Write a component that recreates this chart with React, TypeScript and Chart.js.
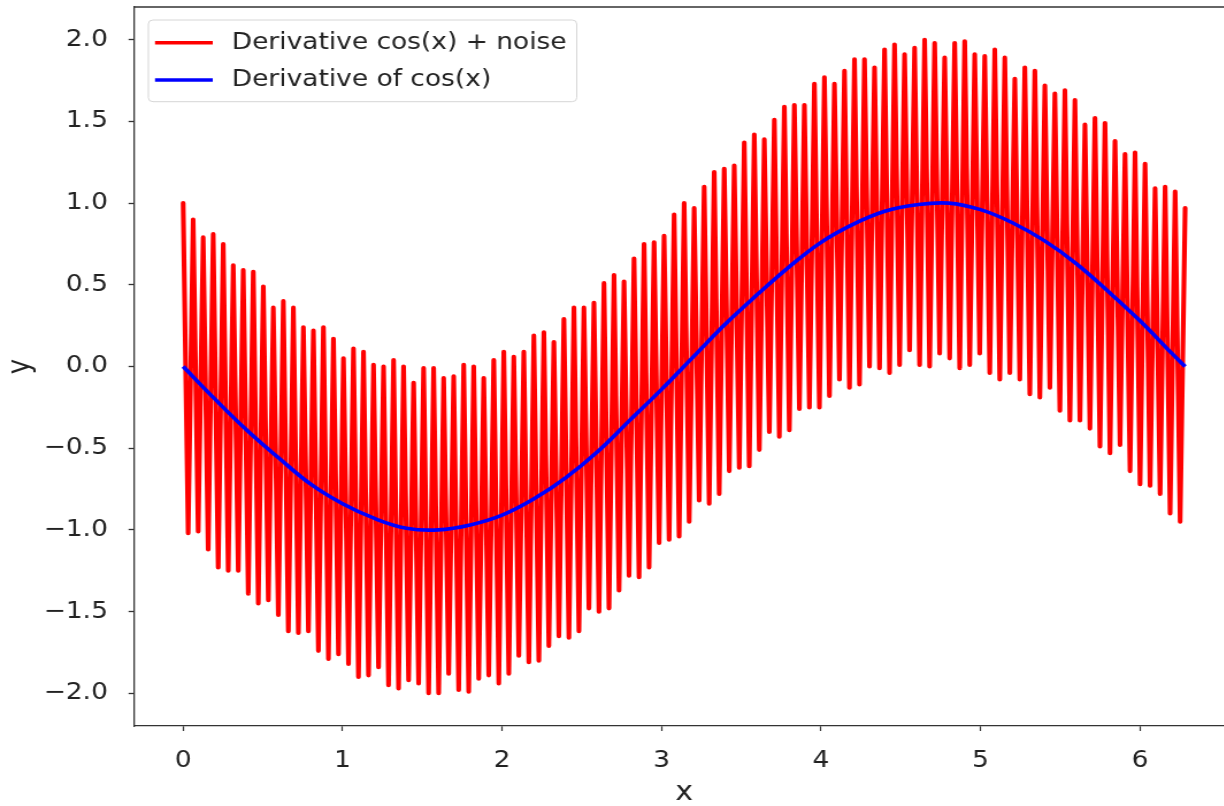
import React, { useEffect, useRef } from 'react';
import { Chart, registerables } from 'chart.js';

Chart.register(...registerables);

// ---------- data ----------
const X_END = 6.2832; // last sample (2π)

// local maxima of the noisy derivative (every other sample, starting at x = 0)
const NOISY_PEAKS = [
  1.0, 0.9, 0.79, 0.81, 0.75, 0.62, 0.59, 0.58, 0.49, 0.36,
  0.4, 0.36, 0.24, 0.22, 0.24, 0.17, 0.05, 0.11, 0.09, 0.01,
  0.0, 0.04, 0.0, -0.1, -0.01, -0.01, -0.07, -0.06, 0.01, 0.0,
  -0.07, 0.04, 0.09, 0.06, 0.09, 0.19, 0.21, 0.15, 0.29, 0.36,
  0.36, 0.39, 0.51, 0.56, 0.52, 0.66, 0.75, 0.76, 0.8, 0.93,
  1.0, 0.97, 1.1, 1.19, 1.21, 1.23, 1.37, 1.42, 1.39, 1.51,
  1.59, 1.6, 1.6, 1.73, 1.77, 1.73, 1.81, 1.88, 1.88, 1.83,
  1.94, 1.97, 1.91, 1.95, 2.0, 1.98, 1.89, 1.98, 1.99, 1.91,
  1.9, 1.94, 1.89, 1.76, 1.83, 1.81, 1.72, 1.67, 1.69, 1.63,
  1.48, 1.52, 1.49, 1.38, 1.3, 1.31, 1.24, 1.09, 1.1, 1.07,
  0.97,
];

// local minima of the noisy derivative (the samples in between)
const NOISY_TROUGHS = [
  -1.02, -1.01, -1.12, -1.23, -1.25, -1.25, -1.39, -1.45, -1.43, -1.52,
  -1.62, -1.63, -1.62, -1.74, -1.79, -1.76, -1.82, -1.9, -1.89, -1.84,
  -1.95, -1.97, -1.92, -1.94, -2.0, -2.0, -1.88, -1.98, -1.99, -1.91,
  -1.89, -1.94, -1.88, -1.77, -1.81, -1.8, -1.71, -1.65, -1.66, -1.62,
  -1.48, -1.5, -1.48, -1.37, -1.28, -1.29, -1.23, -1.08, -1.06, -1.04,
  -0.95, -0.82, -0.84, -0.78, -0.64, -0.62, -0.61, -0.51, -0.4, -0.43,
  -0.39, -0.26, -0.25, -0.25, -0.18, -0.08, -0.13, -0.11, 0.0, -0.01,
  -0.04, 0.01, 0.1, 0.01, 0.0, 0.08, 0.05, -0.01, 0.01, 0.08,
  -0.04, -0.08, -0.04, -0.08, -0.17, -0.19, -0.13, -0.27, -0.33, -0.33,
  -0.38, -0.49, -0.53, -0.48, -0.64, -0.72, -0.73, -0.78, -0.9, -0.95,
];

// smooth derivative of cos(x)
const CLEAN_X = [
  0, 0.2, 0.4, 0.6, 0.8, 1.0, 1.2, 1.4, 1.6, 1.8, 2.0, 2.2, 2.4, 2.6, 2.8, 3.0,
  3.2, 3.4, 3.6, 3.8, 4.0, 4.2, 4.4, 4.6, 4.8, 5.0, 5.2, 5.4, 5.6, 5.8, 6.0, 6.2, 6.2832,
];
const CLEAN_Y = [
  0, -0.2, -0.39, -0.56, -0.72, -0.84, -0.93, -0.99, -1.0, -0.97, -0.91, -0.81, -0.68, -0.52, -0.33, -0.14,
  0.06, 0.26, 0.44, 0.61, 0.76, 0.87, 0.95, 0.99, 1.0, 0.96, 0.88, 0.77, 0.63, 0.46, 0.28, 0.08, 0.0,
];

const X_TICKS = [0, 1, 2, 3, 4, 5, 6];
const Y_TICKS = [-2, -1.5, -1, -0.5, 0, 0.5, 1, 1.5, 2];
const SERIES_LABELS = ['Derivative cos(x) + noise', 'Derivative of cos(x)'];
const X_TITLE = 'x';
const Y_TITLE = 'y';

// ---------- styling ----------
const RED = '#ff0000';
const BLUE = '#0000ff';
const INK = '#222222';
const SPINE = '#333333';
const FONT = '"DejaVu Sans", "Liberation Sans", sans-serif';
const SX = 1.15; // horizontal stretch of the reference figure
const CANVAS_W = 1080;
const CANVAS_H = 806;

function buildNoisy() {
  const total = NOISY_PEAKS.length + NOISY_TROUGHS.length;
  const step = X_END / (total - 1);
  const pts: { x: number; y: number }[] = [];
  for (let i = 0; i < total; i++) {
    const y = i % 2 === 0 ? NOISY_PEAKS[i / 2] : NOISY_TROUGHS[(i - 1) / 2];
    pts.push({ x: i * step, y });
  }
  return pts;
}

const fmtY = (v: number) => (v < 0 ? '\u2212' + Math.abs(v).toFixed(1) : v.toFixed(1));

const framePlugin = {
  id: 'frame',
  afterDraw(chart: any) {
    const { ctx, chartArea } = chart;
    ctx.save();
    ctx.strokeStyle = SPINE;
    ctx.lineWidth = 1.3;
    ctx.beginPath();
    ctx.moveTo(chartArea.left, chartArea.top);
    ctx.lineTo(chartArea.right, chartArea.top);
    ctx.stroke();

    // legend (matplotlib style, upper left)
    const bx = 129, by = 20, bw = 372.5, bh = 81.7, r = 4;
    ctx.beginPath();
    ctx.moveTo(bx + r, by);
    ctx.lineTo(bx + bw - r, by);
    ctx.quadraticCurveTo(bx + bw, by, bx + bw, by + r);
    ctx.lineTo(bx + bw, by + bh - r);
    ctx.quadraticCurveTo(bx + bw, by + bh, bx + bw - r, by + bh);
    ctx.lineTo(bx + r, by + bh);
    ctx.quadraticCurveTo(bx, by + bh, bx, by + bh - r);
    ctx.lineTo(bx, by + r);
    ctx.quadraticCurveTo(bx, by, bx + r, by);
    ctx.closePath();
    ctx.fillStyle = 'rgba(255,255,255,0.8)';
    ctx.fill();
    ctx.strokeStyle = '#d6d6d6';
    ctx.lineWidth = 1;
    ctx.stroke();

    const rows = [
      { color: RED, y: 42.8, label: SERIES_LABELS[0] },
      { color: BLUE, y: 80, label: SERIES_LABELS[1] },
    ];
    ctx.font = `23px ${FONT}`;
    ctx.textBaseline = 'middle';
    ctx.textAlign = 'left';
    for (const row of rows) {
      ctx.strokeStyle = row.color;
      ctx.lineWidth = 3.6;
      ctx.lineCap = 'butt';
      ctx.beginPath();
      ctx.moveTo(134.8, row.y);
      ctx.lineTo(185, row.y);
      ctx.stroke();
      ctx.fillStyle = INK;
      ctx.fillText(row.label, 201.5, row.y + 0.5);
    }
    ctx.restore();
  },
};

export default function App() {
  const canvasRef = useRef<HTMLCanvasElement | null>(null);

  useEffect(() => {
    const canvas = canvasRef.current;
    if (!canvas) return;
    const chart = new Chart(canvas, {
      type: 'line',
      data: {
        datasets: [
          {
            label: SERIES_LABELS[0],
            data: buildNoisy(),
            borderColor: RED,
            backgroundColor: RED,
            borderWidth: 4.1,
            pointRadius: 0,
            tension: 0,
            borderJoinStyle: 'round',
            borderCapStyle: 'round',
            order: 1,
          },
          {
            label: SERIES_LABELS[1],
            data: CLEAN_X.map((x, i) => ({ x, y: CLEAN_Y[i] })),
            borderColor: BLUE,
            backgroundColor: BLUE,
            borderWidth: 3.6,
            pointRadius: 0,
            tension: 0.4,
            borderJoinStyle: 'round',
            order: 0,
          },
        ],
      },
      options: {
        responsive: false,
        animation: false,
        events: [],
        layout: { padding: { top: 7, right: 6.9, bottom: 0, left: 0 } },
        plugins: {
          legend: { display: false },
          tooltip: { enabled: false },
          title: { display: false },
        },
        scales: {
          x: {
            type: 'linear',
            min: -0.305,
            max: 6.59,
            afterBuildTicks: (scale: any) => {
              scale.ticks = X_TICKS.map((v) => ({ value: v }));
            },
            afterFit: (scale: any) => {
              scale.height = 80;
              scale.paddingLeft = 0;
              scale.paddingRight = 0;
            },
            ticks: {
              autoSkip: false,
              maxRotation: 0,
              padding: 16,
              color: INK,
              font: { family: FONT, size: 23 },
              callback: (v: any) => String(v),
            },
            grid: {
              display: true,
              drawOnChartArea: false,
              drawTicks: true,
              tickLength: 5,
              tickWidth: 1.2,
              tickColor: SPINE,
            },
            border: { display: true, color: SPINE, width: 1.3 },
            title: {
              display: true,
              text: X_TITLE,
              color: INK,
              font: { family: FONT, size: 26, lineHeight: 1 },
              padding: 0,
            },
          },
          y: {
            type: 'linear',
            min: -2.2,
            max: 2.2,
            afterBuildTicks: (scale: any) => {
              scale.ticks = Y_TICKS.map((v) => ({ value: v }));
            },
            afterFit: (scale: any) => {
              scale.width = 116.96;
              scale.paddingTop = 0;
              scale.paddingBottom = 0;
            },
            ticks: {
              autoSkip: false,
              padding: 18,
              color: INK,
              font: { family: FONT, size: 23 },
              callback: (v: any) => fmtY(Number(v)),
            },
            grid: {
              display: true,
              drawOnChartArea: false,
              drawTicks: true,
              tickLength: 5.2,
              tickWidth: 1.3,
              tickColor: SPINE,
            },
            border: { display: true, color: SPINE, width: 1.3 },
            title: {
              display: true,
              text: Y_TITLE,
              color: INK,
              font: { family: FONT, size: 26, lineHeight: 1 },
              padding: { top: 5, bottom: 0 },
            },
          },
        },
      },
      plugins: [framePlugin],
    });
    return () => chart.destroy();
  }, []);

  return (
    <div
      style={{
        position: 'fixed',
        left: 0,
        top: 0,
        width: 1224,
        height: 806,
        overflow: 'hidden',
        background: '#ffffff',
      }}
    >
      <div
        style={{
          width: CANVAS_W,
          height: CANVAS_H,
          transform: `scaleX(${SX})`,
          transformOrigin: '0 0',
        }}
      >
        <canvas ref={canvasRef} width={CANVAS_W} height={CANVAS_H} style={{ display: 'block' }} />
      </div>
    </div>
  );
}
